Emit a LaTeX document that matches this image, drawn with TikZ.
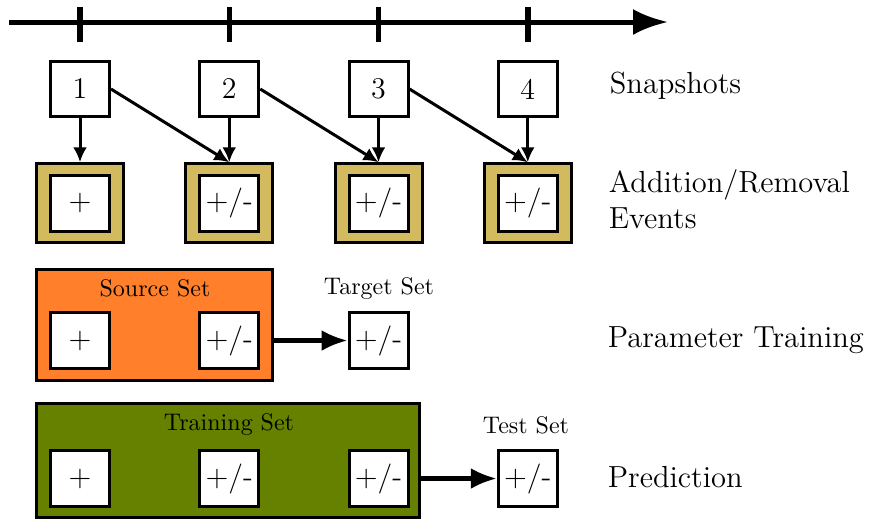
\documentclass[tikz,border=0pt]{standalone}
\usepackage{xcolor}
\usepackage{tikz}
\usetikzlibrary{positioning}
\usetikzlibrary{arrows.meta}
\definecolor{eventgold}{RGB}{212,186,94}
\definecolor{sourceorange}{RGB}{255,127,42}
\definecolor{trainolive}{RGB}{102,128,0}
\tikzset{edge/.style = {-{Latex[length=6pt,width=5.6pt]}, line width=1.2pt}}
\tikzset{bigedge/.style = {-{Latex[length=10.4pt,width=8.4pt]}, line width=1.7pt}}

\begin{document}
\begin{tikzpicture}[x=0.4pt,y=-0.4pt,node distance=59.7pt,
    box/.style={rectangle,draw,fill=white,line width=1.2pt,minimum width=23.6pt,minimum height=22.2pt,inner sep=0pt,font=\large},
    event/.style={rectangle,draw,fill=eventgold,line width=1.2pt,minimum width=34.8pt,minimum height=31.6pt},
    group/.style={rectangle,draw,line width=1.2pt,inner sep=0pt},
    setlabel/.style={font=\fontsize{9.6}{11}\selectfont},
    rowlabel/.style={anchor=west,align=left,font=\fontsize{12.2}{14.5}\selectfont}]
    \useasboundingbox (0,0) rectangle (871,523);

    % snapshots
    \node[box] (s1) at (80,89) {1};
    \node[box] (s2) [right of=s1] {2};
    \node[box] (s3) [right of=s2] {3};
    \node[box] (s4) [right of=s3] {4};

    % time line
    \coordinate (tstart) at (9,22);
    \coordinate (tend) at (668,22);
    \draw[-{Latex[length=14pt,width=10.4pt]}, line width=2pt] (tstart) -- (tend);
    \foreach \n in {s1,s2,s3,s4}
        \draw[line width=2.2pt] (\n |- 0,7) -- (\n |- 0,42);

    % events
    \foreach \n/\t in {1/+,2/{+/-},3/{+/-},4/{+/-}} {
        \node[event] (ev\n) [below of=s\n, node distance=45.7pt] {};
        \node[box] (evin\n) at (ev\n) {\t};
    }

    \path (s1) edge[edge] (ev1);
    \path (s2) edge[edge] (ev2);
    \path (s3) edge[edge] (ev3);
    \path (s4) edge[edge] (ev4);
    \path (s1.east) edge[edge] (ev2.north);
    \path (s2.east) edge[edge] (ev3.north);
    \path (s3.east) edge[edge] (ev4.north);

    % parameter training
    \node[group, fill=sourceorange, minimum width=94.4pt, minimum height=44.4pt] (source) at (154.5,325) {};
    \node[setlabel] (sourcelab) at (155,288) {Source Set};
    \node[box] (src1) at (80,340.5) {+};
    \node[box] (src2) [right of=src1] {+/-};
    \node[box] (target) [right of=src2] {+/-};
    \node[setlabel] (targetlab) at (379,288) {Target Set};
    \path (source.east |- target) edge[bigedge] (target);

    % prediction
    \node[group, fill=trainolive, minimum width=153.2pt, minimum height=45.6pt] (train) at (228,460.5) {};
    \node[setlabel] (trainlab) at (229,424) {Training Set};
    \node[box] (tr1) at (80,478.5) {+};
    \node[box] (tr2) [right of=tr1] {+/-};
    \node[box] (tr3) [right of=tr2] {+/-};
    \node[box] (test) [right of=tr3] {+/-};
    \node[setlabel] (testlab) at (526,425) {Test Set};
    \path (train.east |- test) edge[bigedge] (test);

    % row labels
    \node[rowlabel] (snaplab) at (601,86) {Snapshots};
    \node[rowlabel] (evlab) at (600,199) {Addition/Removal\\Events};
    \node[rowlabel] (ptlab) at (599,340) {Parameter Training};
    \node[rowlabel] (predlab) at (599,477) {Prediction};
\end{tikzpicture}
\end{document}
